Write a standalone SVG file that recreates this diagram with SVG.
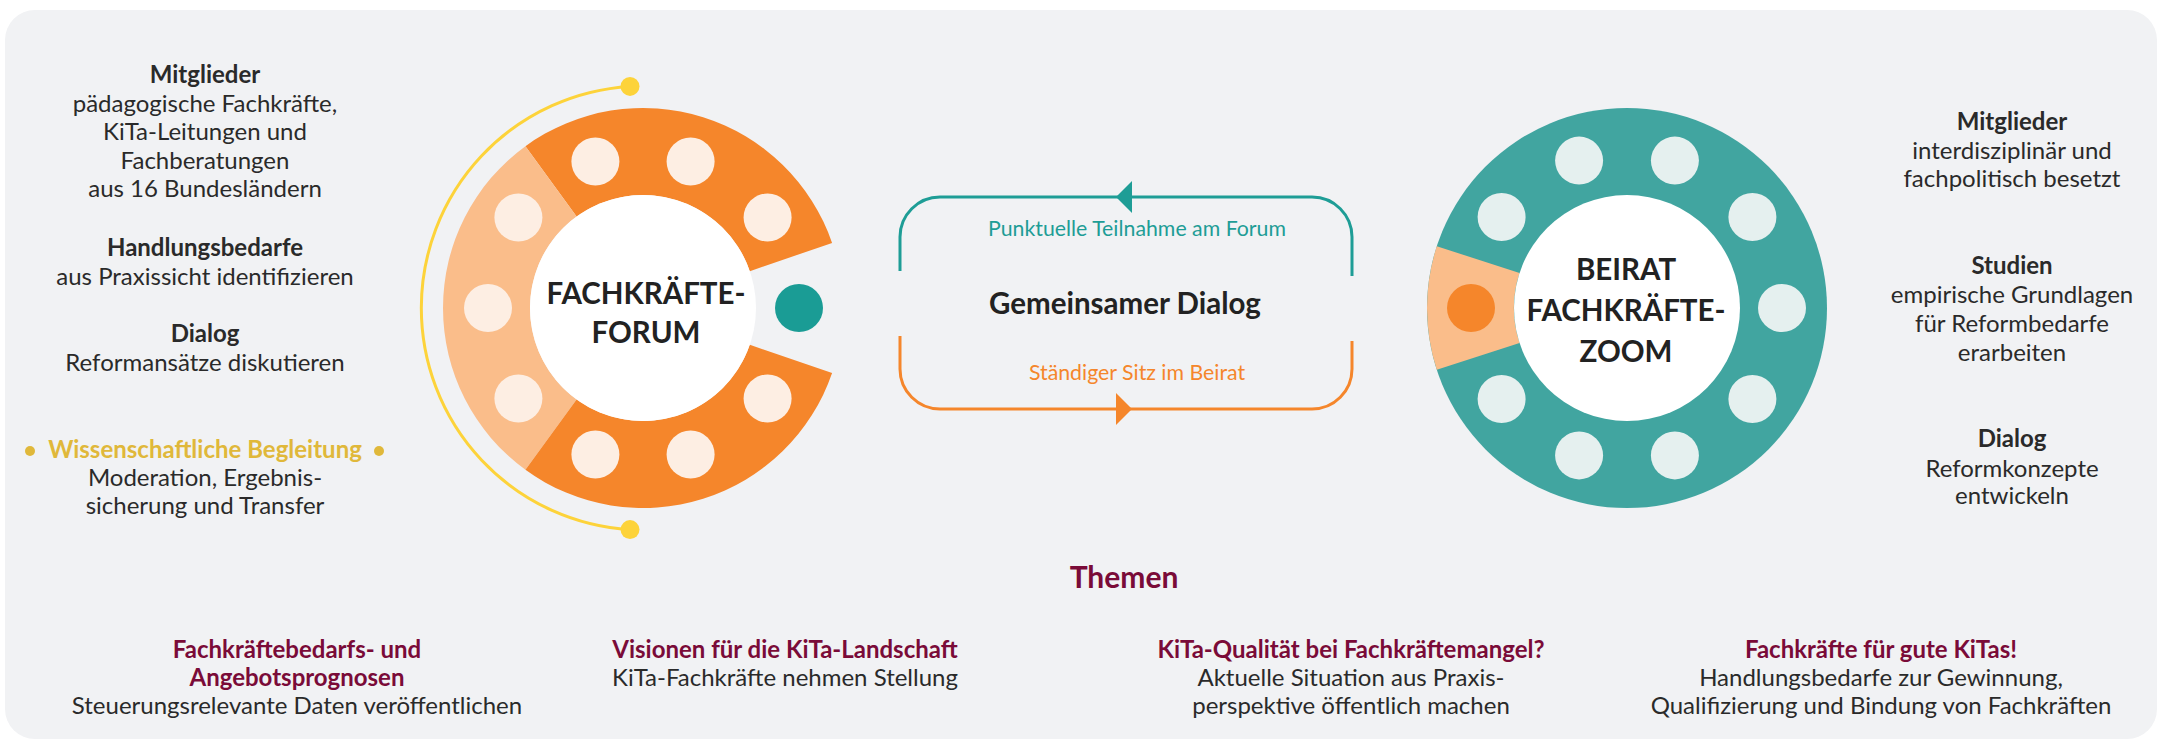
<svg xmlns="http://www.w3.org/2000/svg" width="2163" height="742" viewBox="0 0 2163 742">
<defs>
<style>
text{font-family:Lato,"Liberation Sans",sans-serif;text-anchor:middle}
.b{font-size:24px;fill:#2a2a2a}
.h{font-size:24px;font-weight:700;fill:#2a2a2a}
.y{font-size:24px;font-weight:700;fill:#e0b83a}
.t{font-size:29.5px;font-weight:700;fill:#222}
.m{font-size:24px;font-weight:700;fill:#7a0b38}
.s{font-size:21.3px}
.seatF{fill:#fdeee3}
.seatB{fill:#e5f0ef}
.conn{fill:none;stroke-width:3}
</style>
</defs>
<rect x="5" y="10" width="2152" height="729" rx="30" fill="#f1f2f4"/>

<g id="left-text">
<text class="h" x="205" y="83">Mitglieder</text>
<text class="b" x="205" y="112">pädagogische Fachkräfte,</text>
<text class="b" x="205" y="140">KiTa-Leitungen und</text>
<text class="b" x="205" y="169">Fachberatungen</text>
<text class="b" x="205" y="197">aus 16 Bundesländern</text>
<text class="h" x="205" y="256">Handlungsbedarfe</text>
<text class="b" x="205" y="285">aus Praxissicht identifizieren</text>
<text class="h" x="205" y="342">Dialog</text>
<text class="b" x="205" y="371">Reformansätze diskutieren</text>
<circle cx="30" cy="451" r="5" fill="#e0b83a"/>
<circle cx="379" cy="451" r="5" fill="#e0b83a"/>
<text class="y" x="205" y="458">Wissenschaftliche Begleitung</text>
<text class="b" x="205" y="486">Moderation, Ergebnis-</text>
<text class="b" x="205" y="514">sicherung und Transfer</text>
</g>

<g id="forum">
<path d="M630,86.4 A222 222 0 0 0 630,529.6" fill="none" stroke="#fdd33a" stroke-width="3"/>
<circle cx="630" cy="86.4" r="9.5" fill="#fdd33a"/>
<circle cx="630" cy="529.6" r="9.5" fill="#fdd33a"/>
<path d="M525.44,146.2 A200 200 0 0 1 832.1,242.89 L749.84,271.21 A113 113 0 0 0 576.58,216.58 Z" fill="#f5862b"/>
<path d="M525.44,469.8 A200 200 0 0 1 525.44,146.2 L576.58,216.58 A113 113 0 0 0 576.58,399.42 Z" fill="#fabd8a"/>
<path d="M832.1,373.11 A200 200 0 0 1 525.44,469.8 L576.58,399.42 A113 113 0 0 0 749.84,344.79 Z" fill="#f5862b"/>
<circle cx="643" cy="308" r="113" fill="#fff"/>
<circle class="seatF" cx="767.6" cy="398.5" r="24"/>
<circle class="seatF" cx="690.6" cy="454.5" r="24"/>
<circle class="seatF" cx="595.4" cy="454.5" r="24"/>
<circle class="seatF" cx="518.4" cy="398.5" r="24"/>
<circle class="seatF" cx="488" cy="308" r="24"/>
<circle class="seatF" cx="518.4" cy="217.5" r="24"/>
<circle class="seatF" cx="595.4" cy="161.5" r="24"/>
<circle class="seatF" cx="690.6" cy="161.5" r="24"/>
<circle class="seatF" cx="767.6" cy="217.5" r="24"/>
<circle cx="799" cy="308" r="24" fill="#1a9c95"/>
<text class="t" x="646" y="304">FACHKRÄFTE-</text>
<text class="t" x="646" y="343">FORUM</text>
</g>

<g id="connectors">
<path class="conn" stroke="#1e9d96" d="M900,271 L900,237 A40 40 0 0 1 940,197 L1312,197 A40 40 0 0 1 1352,237 L1352,276"/>
<polygon points="1116,197 1132,181 1132,213" fill="#1e9d96"/>
<path class="conn" stroke="#f5862b" d="M900,336 L900,369 A40 40 0 0 0 940,409 L1312,409 A40 40 0 0 0 1352,369 L1352,341"/>
<polygon points="1132,409 1116,393 1116,425" fill="#f5862b"/>
</g>

<g id="dialog">
<text class="s" x="1137" y="236" fill="#1e9d96">Punktuelle Teilnahme am Forum</text>
<text class="t" x="1125" y="314">Gemeinsamer Dialog</text>
<text class="s" x="1137" y="380" fill="#f5862b">Ständiger Sitz im Beirat</text>
</g>

<g id="beirat">
<circle cx="1627" cy="308" r="200" fill="#41a5a0"/>
<path d="M1436.79,246.2 L1519.53,273.08 A113 113 0 0 0 1519.53,342.92 L1436.79,369.8 A200 200 0 0 1 1436.79,246.2 Z" fill="#fabd8a"/>
<circle cx="1627" cy="308" r="113" fill="#fff"/>
<circle class="seatB" cx="1782" cy="308" r="24"/>
<circle class="seatB" cx="1752.4" cy="399" r="24"/>
<circle class="seatB" cx="1674.9" cy="455.4" r="24"/>
<circle class="seatB" cx="1579.1" cy="455.4" r="24"/>
<circle class="seatB" cx="1501.6" cy="399" r="24"/>
<circle class="seatB" cx="1501.6" cy="217" r="24"/>
<circle class="seatB" cx="1579.1" cy="160.6" r="24"/>
<circle class="seatB" cx="1674.9" cy="160.6" r="24"/>
<circle class="seatB" cx="1752.4" cy="217" r="24"/>
<circle cx="1471" cy="308" r="24" fill="#f5862b"/>
<text class="t" x="1626" y="280">BEIRAT</text>
<text class="t" x="1626" y="321">FACHKRÄFTE-</text>
<text class="t" x="1626" y="362">ZOOM</text>
</g>

<g id="right-text">
<text class="h" x="2012" y="130">Mitglieder</text>
<text class="b" x="2012" y="159">interdisziplinär und</text>
<text class="b" x="2012" y="187">fachpolitisch besetzt</text>
<text class="h" x="2012" y="274">Studien</text>
<text class="b" x="2012" y="303">empirische Grundlagen</text>
<text class="b" x="2012" y="332">für Reformbedarfe</text>
<text class="b" x="2012" y="361">erarbeiten</text>
<text class="h" x="2012" y="447">Dialog</text>
<text class="b" x="2012" y="477">Reformkonzepte</text>
<text class="b" x="2012" y="504">entwickeln</text>
</g>

<g id="themen">
<text x="1124" y="588" style="font-size:30px;font-weight:700;fill:#7a0b38">Themen</text>
<text class="m" x="297" y="658">Fachkräftebedarfs- und</text>
<text class="m" x="297" y="686">Angebotsprognosen</text>
<text class="b" x="297" y="714">Steuerungsrelevante Daten veröffentlichen</text>
<text class="m" x="785" y="658">Visionen für die KiTa-Landschaft</text>
<text class="b" x="785" y="686">KiTa-Fachkräfte nehmen Stellung</text>
<text class="m" x="1351" y="658">KiTa-Qualität bei Fachkräftemangel?</text>
<text class="b" x="1351" y="686">Aktuelle Situation aus Praxis-</text>
<text class="b" x="1351" y="714">perspektive öffentlich machen</text>
<text class="m" x="1881" y="658">Fachkräfte für gute KiTas!</text>
<text class="b" x="1881" y="686">Handlungsbedarfe zur Gewinnung,</text>
<text class="b" x="1881" y="714">Qualifizierung und Bindung von Fachkräften</text>
</g>
</svg>
